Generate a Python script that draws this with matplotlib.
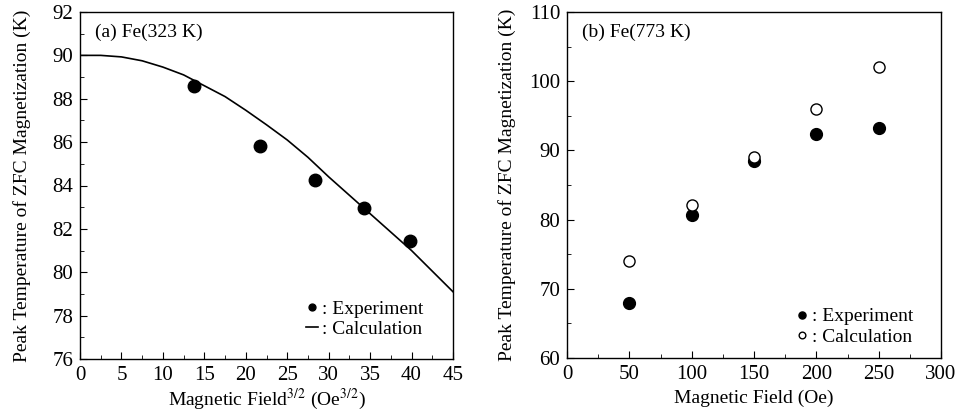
import matplotlib
matplotlib.use("Agg")
from matplotlib import pyplot as plt
from matplotlib.ticker import MultipleLocator

plt.rcParams['font.family'] = ['Liberation Serif', 'DejaVu Serif']
plt.rcParams['mathtext.fontset'] = 'stix'

# (a) Fe(323 K): experiment points and calculated curve
field32_exp = [13.7, 21.7, 28.3, 34.3, 39.8]
tp_exp_a = [88.6, 85.8, 84.25, 82.95, 81.45]
field32_calc = [0, 2.5, 5, 7.5, 10, 12.5, 15, 17.5, 20, 22.5, 25, 27.5, 30, 32.5, 35, 37.5, 40, 42.5, 45]
tp_calc_a = [90.0, 90.0, 89.93, 89.75, 89.46, 89.1, 88.6, 88.1, 87.47, 86.8, 86.1, 85.3, 84.4,
             83.55, 82.7, 81.85, 81.0, 80.05, 79.1]

# (b) Fe(773 K)
field_b = [50, 100, 150, 200, 250]
tp_exp_b = [68.0, 80.7, 88.4, 92.3, 93.3]
tp_calc_b = [74.0, 82.1, 89.0, 96.0, 102.0]

fig = plt.figure(figsize=(9.56, 4.18), dpi=100)
ax1 = fig.add_axes([80 / 956, 1 - 359 / 418, 373 / 956, 347 / 418])
ax2 = fig.add_axes([567 / 956, 1 - 358 / 418, 374 / 956, 346 / 418])

fs = 14
ylab = "Peak Temperature of ZFC Magnetization (K)"

ax1.plot(field32_calc, tp_calc_a, color='black', lw=1.2, label=': Calculation')
ax1.plot(field32_exp, tp_exp_a, 'o', color='black', ms=9, label=': Experiment')
ax1.set_xlim(0, 45)
ax1.set_ylim(76, 92)
ax1.xaxis.set_major_locator(MultipleLocator(5))
ax1.xaxis.set_minor_locator(MultipleLocator(2.5))
ax1.yaxis.set_major_locator(MultipleLocator(2))
ax1.yaxis.set_minor_locator(MultipleLocator(1))
ax1.set_xlabel("Magnetic Field$^{3/2}$ (Oe$^{3/2}$)", fontsize=fs, labelpad=1)
ax1.set_ylabel(ylab, fontsize=fs, labelpad=15)
ax1.text(0.04, 0.942, "(a) Fe(323 K)", transform=ax1.transAxes, fontsize=fs, va='center')
h, l = ax1.get_legend_handles_labels()
ax1.legend([h[1], h[0]], [l[1], l[0]], loc='lower right', frameon=False, fontsize=fs,
           handlelength=0.6, handletextpad=0.2, labelspacing=0.15, markerscale=0.55,
           borderaxespad=0, borderpad=0, bbox_to_anchor=(0.92, 0.06))

ax2.plot(field_b, tp_exp_b, 'o', color='black', ms=8.5, label=': Experiment')
ax2.plot(field_b, tp_calc_b, 'o', mfc='white', mec='black', mew=1.0, ms=8, label=': Calculation')
ax2.set_xlim(0, 300)
ax2.set_ylim(60, 110)
ax2.xaxis.set_major_locator(MultipleLocator(50))
ax2.xaxis.set_minor_locator(MultipleLocator(25))
ax2.yaxis.set_major_locator(MultipleLocator(10))
ax2.yaxis.set_minor_locator(MultipleLocator(5))
ax2.set_xlabel("Magnetic Field (Oe)", fontsize=fs)
ax2.set_ylabel(ylab, fontsize=fs, labelpad=9)
ax2.text(0.04, 0.942, "(b) Fe(773 K)", transform=ax2.transAxes, fontsize=fs, va='center')
ax2.legend(loc='lower right', frameon=False, fontsize=fs, handlelength=0.6,
           handletextpad=0.2, labelspacing=0.15, markerscale=0.6,
           borderaxespad=0, borderpad=0, bbox_to_anchor=(0.925, 0.035))

for ax in (ax1, ax2):
    ax.tick_params(which='both', direction='in', top=False, right=False, labelsize=15)
    ax.tick_params(which='major', length=5, pad=5)
    ax.tick_params(which='minor', length=3)
    for s in ax.spines.values():
        s.set_linewidth(1.0)

fig.savefig("out.png", dpi=100)
